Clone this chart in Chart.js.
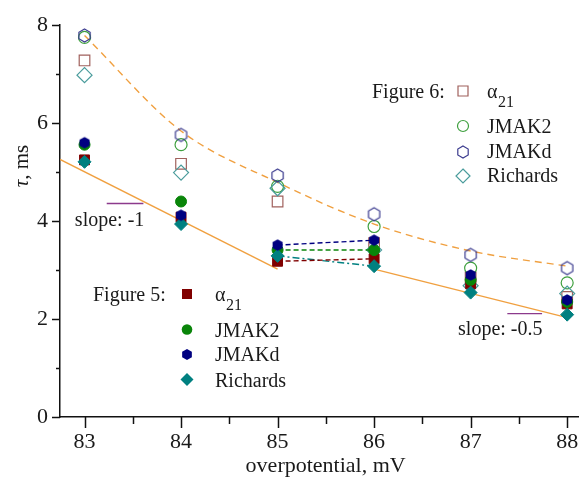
<!DOCTYPE html>
<html><head><meta charset="utf-8">
<script src="https://cdn.jsdelivr.net/npm/chart.js@4.4.0/dist/chart.umd.min.js"></script>
<style>html,body{margin:0;padding:0;background:#fff;overflow:hidden;width:579px;height:477px}canvas{display:block}</style>
</head><body>
<canvas id="c" width="600" height="477"></canvas>
<script>
// ---- data ----
const overpotential = [83, 84, 85, 86, 87, 88];          // mV
const xTickLabels = ['83', '84', '85', '86', '87', '88'];
const yTickValues = [0, 2, 4, 6, 8];
const yTickLabels = ['0', '2', '4', '6', '8'];
// Figure 5 (filled markers), tau in ms
const fig5Alpha21  = [5.25, 4.08, 3.18, 3.23, 2.72, 2.31];
const fig5JMAK2    = [5.56, 4.40, 3.41, 3.41, 2.80, 2.35];
const fig5JMAKd    = [5.60, 4.12, 3.51, 3.61, 2.90, 2.39];
const fig5Richards = [5.21, 3.94, 3.29, 3.08, 2.54, 2.09];
// Figure 6 (open markers)
const fig6Alpha21  = [7.28, 5.17, 4.40, 3.55, 2.85, 2.45];
const fig6JMAK2    = [7.75, 5.56, 4.71, 3.89, 3.04, 2.74];
const fig6JMAKd    = [7.79, 5.76, 4.93, 4.14, 3.31, 3.04];
const fig6Richards = [6.98, 4.99, 4.67, 3.41, 2.68, 2.52];
// fitted curves
const fig6FitY   = [7.79, 5.84, 4.79, 3.94, 3.39, 3.08];
const slope1X    = [82.746, 85];  const slope1Y  = [5.26, 3.02];
const slope05X   = [86, 88];      const slope05Y = [3.02, 2.03];
const mark1X     = [83.23, 83.61]; const mark1Y = [4.36, 4.36];
const mark2X     = [87.38, 87.74]; const mark2Y = [2.11, 2.11];
const connectIdx = [2, 3]; // 85 -> 86 connecting segments of Figure 5

// ---- styles ----
const C = {
  a21: '#800000', jm2: '#0a850a', jmd: '#000080', ric: '#008080',
  a21o: '#a0605c', jm2o: '#3fa03f', jmdo: '#3a3a8e', rico: '#4a9c9c',
  orange: '#f0a040', purple: '#8c3a8c'
};
const FONT = 'Liberation Serif';

function hexCanvas(r, fill, stroke, lw) {
  const s = Math.ceil(2 * r + lw + 2);
  const c = document.createElement('canvas'); c.width = s; c.height = s;
  const g = c.getContext('2d');
  g.beginPath();
  for (let i = 0; i < 6; i++) {
    const a = -Math.PI / 2 + i * Math.PI / 3;
    const px = s / 2 + r * Math.cos(a), py = s / 2 + r * Math.sin(a);
    i ? g.lineTo(px, py) : g.moveTo(px, py);
  }
  g.closePath();
  if (fill) { g.fillStyle = fill; g.fill(); }
  if (stroke) { g.strokeStyle = stroke; g.lineWidth = lw; g.stroke(); }
  return c;
}
const hexFilled = hexCanvas(5.8, C.jmd, null, 0);
const hexOpen = hexCanvas(6.5, null, C.jmdo, 1.2);

const pts = (xs, ys) => xs.map((x, i) => ({ x, y: ys[i] }));
const sub = (arr) => connectIdx.map(i => ({ x: overpotential[i], y: arr[i] }));

function scatter(label, ys, style, color, fill, radius, order, lw) {
  return { label, data: pts(overpotential, ys), showLine: false, pointStyle: style,
    pointRadius: radius, pointBorderColor: color, pointBackgroundColor: fill,
    pointBorderWidth: lw, order };
}
function line(label, data, color, dash, order, extra) {
  return Object.assign({ label, data, showLine: true, pointRadius: 0, borderColor: color,
    borderWidth: 1.4, borderDash: dash, fill: false, order }, extra || {});
}

const datasets = [
  scatter('F5 JMAKd', fig5JMAKd, hexFilled, C.jmd, C.jmd, 6, 0, 0),
  scatter('F5 Richards', fig5Richards, 'rectRot', C.ric, C.ric, 6.5, 1, 1),
  scatter('F5 JMAK2', fig5JMAK2, 'circle', C.jm2, C.jm2, 5.5, 2, 1),
  scatter('F5 a21', fig5Alpha21, 'rect', C.a21, C.a21, 7, 3, 1),
  line('c JMAKd', sub(fig5JMAKd), C.jmd, [5, 3], 4),
  line('c JMAK2', sub(fig5JMAK2), C.jm2, [5, 3], 4),
  line('c a21', sub(fig5Alpha21), C.a21, [5, 3], 4),
  line('c Richards', sub(fig5Richards), C.ric, [7, 3, 2, 3], 4),
  scatter('F6 JMAKd', fig6JMAKd, hexOpen, C.jmdo, 'rgba(0,0,0,0)', 7, 5, 1.2),
  scatter('F6 Richards', fig6Richards, 'rectRot', C.rico, 'rgba(0,0,0,0)', 7.5, 6, 1.2),
  scatter('F6 JMAK2', fig6JMAK2, 'circle', C.jm2o, 'rgba(0,0,0,0)', 6, 7, 1.2),
  scatter('F6 a21', fig6Alpha21, 'rect', C.a21o, 'rgba(0,0,0,0)', 7.5, 8, 1.2),
  line('fit6', pts(overpotential, fig6FitY), C.orange, [7, 5], 9, { cubicInterpolationMode: 'monotone' }),
  line('slope1', pts(slope1X, slope1Y), C.orange, [], 9),
  line('slope05', pts(slope05X, slope05Y), C.orange, [], 9),
  line('mark1', pts(mark1X, mark1Y), C.purple, [], 9),
  line('mark2', pts(mark2X, mark2Y), C.purple, [], 9)
];

// ---- decorations: minor/major tick marks, titles, in-plot legends, slope labels ----
function drawMarker(g, kind, x, y, filled, color) {
  g.save();
  g.strokeStyle = color; g.fillStyle = color; g.lineWidth = 1.2;
  g.beginPath();
  if (kind === 'rect') { const h = filled ? 5 : 5; g.rect(x - h, y - h, 2 * h, 2 * h); }
  else if (kind === 'circle') { g.arc(x, y, filled ? 5.3 : 5.5, 0, Math.PI * 2); }
  else if (kind === 'rectRot') { const r = filled ? 6.5 : 7; g.moveTo(x, y - r); g.lineTo(x + r, y); g.lineTo(x, y + r); g.lineTo(x - r, y); g.closePath(); }
  else if (kind === 'hex') { const r = filled ? 5.6 : 6; for (let i = 0; i < 6; i++) { const a = -Math.PI / 2 + i * Math.PI / 3; const px = x + r * Math.cos(a), py = y + r * Math.sin(a); i ? g.lineTo(px, py) : g.moveTo(px, py); } g.closePath(); }
  filled ? g.fill() : g.stroke();
  g.restore();
}
function alphaLabel(g, x, base) {
  g.font = `20px "${FONT}"`; g.fillText('α', x, base);
  const w = g.measureText('α').width;
  g.font = `16px "${FONT}"`; g.fillText('21', x + w + 0.5, base + 9);
}

const decor = {
  id: 'decor',
  afterDraw(chart) {
    const g = chart.ctx, ca = chart.chartArea, xs = chart.scales.x, ys = chart.scales.y;
    g.save();
    g.strokeStyle = '#111'; g.lineWidth = 1.5;
    for (let v = 83; v <= 88.51; v += 0.5) {
      const px = Math.round(xs.getPixelForValue(v)) + 0.5, len = Number.isInteger(v) ? 11 : 7;
      g.beginPath(); g.moveTo(px, ca.bottom); g.lineTo(px, ca.bottom + len); g.stroke();
    }
    for (let v = 0; v <= 8; v += 1) {
      const py = Math.round(ys.getPixelForValue(v)) + 0.5, len = v % 2 === 0 ? 8 : 4;
      g.beginPath(); g.moveTo(ca.left - len, py); g.lineTo(ca.left, py); g.stroke();
    }
    g.fillStyle = '#1a1a1a';
    // x title
    g.font = `22px "${FONT}"`; g.textAlign = 'center'; g.textBaseline = 'alphabetic';
    g.fillText('overpotential, mV', (ca.left + ca.right) / 2, 472);
    // y title
    g.save(); g.translate(28, 166); g.rotate(-Math.PI / 2);
    g.textAlign = 'left';
    g.font = `italic 21px "${FONT}"`; const wt = g.measureText('τ').width;
    g.font = `21px "${FONT}"`; const wr = g.measureText(', ms').width;
    const x0 = -(wt + wr) / 2;
    g.font = `italic 21px "${FONT}"`; g.fillText('τ', x0, 0);
    g.font = `21px "${FONT}"`; g.fillText(', ms', x0 + wt, 0);
    g.restore();
    // slope labels
    g.textAlign = 'left'; g.font = `20px "${FONT}"`;
    g.fillText('slope: -1', xs.getPixelForValue(82.90), ys.getPixelForValue(3.91));
    g.fillText('slope: -0.5', xs.getPixelForValue(86.87), ys.getPixelForValue(1.68));
    // legend Figure 6 (open)
    g.font = `20px "${FONT}"`;
    g.fillText('Figure 6:', 372, 97.5);
    drawMarker(g, 'rect', 463, 91, false, C.a21o);
    alphaLabel(g, 487, 97.5);
    g.font = `20px "${FONT}"`;
    drawMarker(g, 'circle', 463, 126, false, C.jm2o); g.fillText('JMAK2', 487, 132.5);
    drawMarker(g, 'hex', 463, 152, false, C.jmdo); g.fillText('JMAKd', 487, 157.5);
    drawMarker(g, 'rectRot', 463, 176, false, C.rico); g.fillText('Richards', 487, 181.5);
    // legend Figure 5 (filled)
    g.fillText('Figure 5:', 93, 300.5);
    drawMarker(g, 'rect', 187, 294, true, C.a21);
    alphaLabel(g, 215, 300.5);
    g.font = `20px "${FONT}"`;
    drawMarker(g, 'circle', 187, 329.5, true, C.jm2); g.fillText('JMAK2', 215, 337);
    drawMarker(g, 'hex', 187, 354.5, true, C.jmd); g.fillText('JMAKd', 215, 361);
    drawMarker(g, 'rectRot', 187, 379.5, true, C.ric); g.fillText('Richards', 215, 386.5);
    g.restore();
  }
};

new Chart(document.getElementById('c'), {
  type: 'scatter',
  data: { datasets },
  options: {
    responsive: false, animation: false,
    layout: { padding: { top: 23, right: 8, left: 0, bottom: 0 } },
    plugins: { legend: { display: false }, tooltip: { enabled: false } },
    scales: {
      x: {
        type: 'linear', min: 82.746, max: 88.25,
        afterBuildTicks(s) { s.ticks = overpotential.map(v => ({ value: v })); },
        afterFit(s) { s.height = 60; },
        grid: { display: false, drawTicks: false },
        border: { display: true, color: '#111', width: 1.5 },
        ticks: { font: { family: FONT, size: 22 }, color: '#1a1a1a', padding: 12, maxRotation: 0, autoSkip: false,
          callback: (v, i) => xTickLabels[i] }
      },
      y: {
        type: 'linear', min: 0, max: 8,
        afterBuildTicks(s) { s.ticks = yTickValues.map(v => ({ value: v })); },
        afterFit(s) { s.width = 60; },
        grid: { display: false, drawTicks: false },
        border: { display: true, color: '#111', width: 1.5 },
        ticks: { font: { family: FONT, size: 22 }, color: '#1a1a1a', padding: 12,
          callback: (v, i) => yTickLabels[i] }
      }
    }
  },
  plugins: [decor]
});
</script>
</body></html>
